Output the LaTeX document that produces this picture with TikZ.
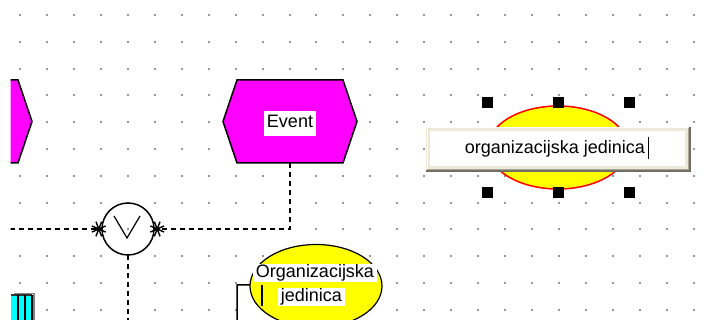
\documentclass[tikz,border=0pt]{standalone}
\usepackage{fontspec}
\setmainfont{Liberation Sans}
\usepackage{xcolor}
\definecolor{evmagenta}{RGB}{255,0,255}
\definecolor{orgjaune}{RGB}{255,255,0}
\definecolor{appcyan}{RGB}{0,255,255}
\definecolor{gridgris}{RGB}{150,150,150}
\definecolor{boxbeige}{RGB}{236,233,216}
\definecolor{boxombre}{RGB}{113,111,100}
\definecolor{boxgris}{RGB}{172,168,153}
\usepackage{tikz}
\usetikzlibrary{positioning,calc,shapes.geometric,arrows.meta}

\tikzset{
  hexframe/.style={minimum width=134pt, minimum height=83pt,
                   inner sep=0pt, outer sep=0pt},
  hexfill/.style={fill=evmagenta, draw=black, line width=1.5pt},
  lblwhite/.style={fill=white, inner xsep=3pt, inner ysep=0.5pt,
                   text height=13pt, text depth=4pt,
                   font=\fontsize{18}{20}\selectfont},
  conn/.style={draw=black, line width=1.5pt, dash pattern=on 5pt off 4pt},
  raymark/.style={-{Rays[n=8, length=15pt, width=16pt, line width=1.4pt]},
                  shorten >=-4pt},
  handle/.style={fill=black, minimum size=11pt, inner sep=0pt},
  orgshape/.style={ellipse, minimum width=132pt, minimum height=83pt,
                   fill=orgjaune}
}

\begin{document}
\begin{tikzpicture}[x=1pt, y=-1pt]
  \useasboundingbox (0,0) rectangle (713,320);
  \begin{scope}
  \clip (10.5,0) rectangle (713,320);

  % Grille de points
  \foreach \i in {0,...,25}
    \foreach \j in {0,...,11}
      \fill[gridgris] ({20+26.95*\i-1},{15+26.8*\j-1}) rectangle ++(2,2);

  % Evenements (hexagones magenta)
  \node[hexframe] (evleft) at (-35,121.5) {};
  \node[hexframe] (event) at (290,121.5) {};
  \foreach \h in {evleft,event}
    \draw[hexfill] (\h.west) -- ([xshift=14pt]\h.north west)
      -- ([xshift=-14pt]\h.north east) -- (\h.east)
      -- ([xshift=-14pt]\h.south east) -- ([xshift=14pt]\h.south west) -- cycle;
  \node[lblwhite, inner ysep=4pt, yshift=-2pt] (evlbl) at (event) {Event};

  % Connecteur OU
  \node[draw=black, line width=1.5pt, circle, minimum size=52pt,
        inner sep=0pt, outer sep=0pt] (xor) at (128,229) {};
  \draw[line width=1.2pt] ([shift={(-14,-13)}]xor.center)
    -- ([shift={(-1,9)}]xor.center) -- ([shift={(12,-13)}]xor.center);

  % Liaisons en pointille
  \coordinate (lstart) at (10,229);
  \coordinate (bend) at (128,322);
  \draw[conn, raymark] (event.south) |- (xor.east);
  \draw[conn, raymark] (lstart) -- (xor.west);
  \draw[conn] (xor.south) -- (bend);

  % Systeme cyan (coupe a gauche)
  \fill[appcyan] (11,295) rectangle (32,320);
  \draw[gray, line width=1.5pt] (14,293.5) -- (34,293.5) -- (34,320);
  \draw[black!80, line width=2pt] (11,295) -- (32,295);
  \draw[black, line width=2pt] (18,295) -- (18,320) (25,295) -- (25,320)
    (32,295) -- (32,320);

  % Forme cachee derriere l'unite
  \draw[black, line width=1.5pt] (237,322) -- (237,285) -- (250,285) -- (257,295);

  % Unite organisationnelle
  \node[orgshape, draw=black, line width=1.2pt] (orgunit) at (316,286) {};
  \draw[black, line width=1.5pt] (262,285) -- (262,306);
  \node[lblwhite] (orgl1) at (315,273) {Organizacijska};
  \node[lblwhite, below=6pt of orgl1, xshift=-3.5pt] (orgl2) {jedinica};

  % Unite selectionnee avec poignees
  \node[orgshape, draw=red, line width=1.5pt, minimum width=140pt]
    (orgsel) at (558,147.5) {};
  \foreach \hx in {-71,0,71}
    \foreach \hy in {-45,45}
      \node[handle] at ([shift={(\hx,\hy)}]orgsel.center) {};

  % Zone d'edition
  \node[fill=white, draw=boxbeige, line width=4pt,
        minimum width=259pt, minimum height=39pt] (edit) at (557.5,148.5) {};
  \draw[white, line width=1pt] ([xshift=1pt,yshift=1pt]edit.south west)
    |- ([xshift=-1pt,yshift=-1pt]edit.north east);
  \draw[boxgris, line width=1pt] ([xshift=1pt,yshift=0.5pt]edit.south west)
    -- ([xshift=-0.5pt,yshift=0.5pt]edit.south east)
    -- ([xshift=-0.5pt,yshift=-1pt]edit.north east);
  \draw[boxombre, line width=2pt] ([yshift=-1pt]edit.south west)
    -- ([xshift=1pt,yshift=-1pt]edit.south east)
    -- ([xshift=1pt]edit.north east);
  \node[anchor=base, inner sep=0pt, font=\fontsize{18}{20}\selectfont]
    (edtxt) at (555,154) {organizacijska jedinica};
  \draw[line width=1.5pt] ([xshift=3pt,yshift=-5pt]edtxt.base east)
    -- ([xshift=3pt,yshift=17pt]edtxt.base east);
  \end{scope}
\end{tikzpicture}
\end{document}
